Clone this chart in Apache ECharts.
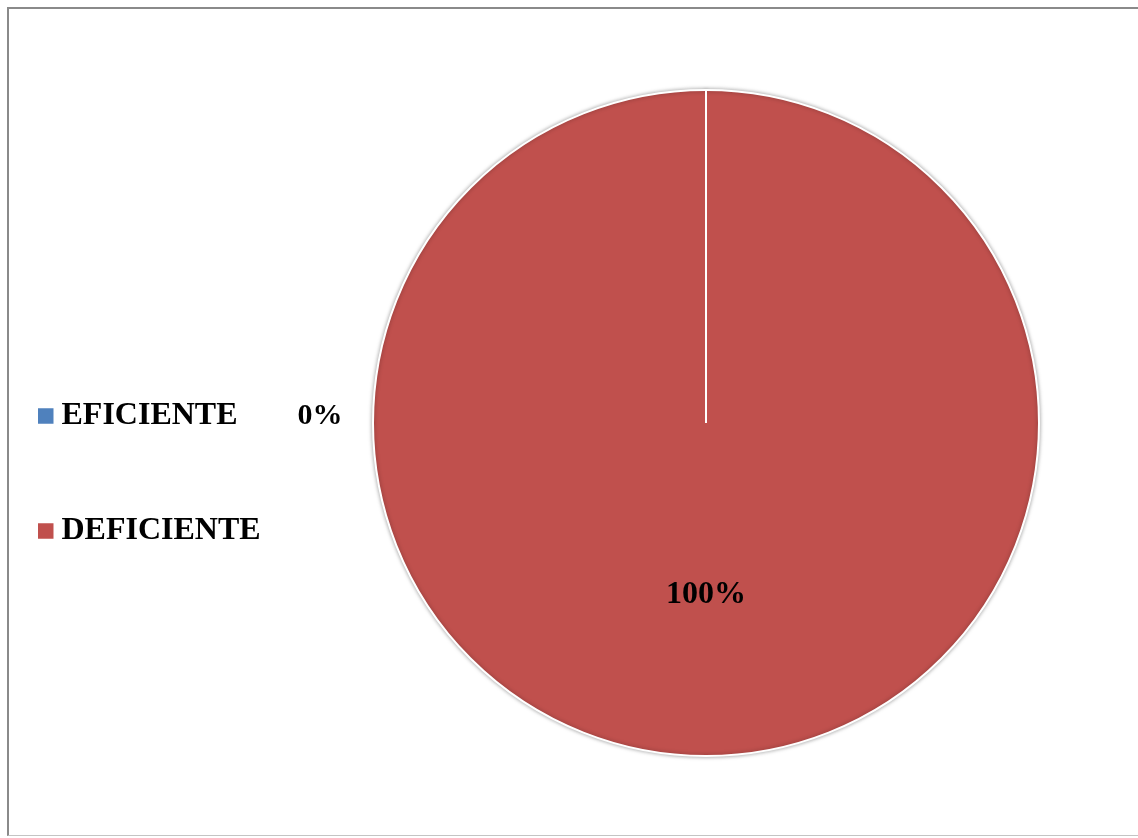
<!DOCTYPE html>
<html>
<head>
<meta charset="utf-8">
<script src="https://cdn.jsdelivr.net/npm/echarts@6/dist/echarts.min.js"></script>
<style>
  html, body { margin: 0; padding: 0; background: #fff; }
  #frame {
    position: absolute; left: 7px; top: 7px; width: 1140px; height: 829px;
    border-top: 2px solid #8a8a8a; border-left: 2px solid #8a8a8a;
    border-bottom: 1px solid #c4c4c4; box-sizing: border-box;
  }
  #chart { position: absolute; left: 0; top: 0; width: 1138px; height: 838px; }
</style>
</head>
<body>
<div id="frame"></div>
<div id="chart"></div>
<script>
// Categories and values of the pie
const categories = ['EFICIENTE', 'DEFICIENTE'];
const values = [0, 100];
const colors = ['#4F81BD', '#C0504D'];

const serif = '"Liberation Serif", "Times New Roman", serif';

const chart = echarts.init(document.getElementById('chart'), null, { renderer: 'canvas' });

const data = categories.map((name, i) => ({
  name,
  value: values[i],
  itemStyle: { color: colors[i] },
  label: i === 0
    ? { position: 'center', offset: [-386, -7], fontSize: 30 }
    : { position: 'inside', offset: [0, 2], fontSize: 32 }
}));

chart.setOption({
  animation: false,
  legend: {
    orient: 'vertical',
    left: 31,
    top: 395,
    itemWidth: 17.5,
    itemHeight: 17.5,
    itemGap: 83,
    icon: 'rect',
    data: categories,
    textStyle: {
      fontFamily: serif,
      fontWeight: 'bold',
      fontSize: 32,
      lineHeight: 32,
      color: '#000',
      padding: [0, 0, 0, 2]
    }
  },
  series: [{
    type: 'pie',
    center: [706, 423],
    radius: 333,
    startAngle: 90,
    clockwise: true,
    avoidLabelOverlap: false,
    silent: true,
    itemStyle: {
      borderColor: '#ffffff',
      borderWidth: 2,
      shadowBlur: 4,
      shadowColor: 'rgba(0,0,0,0.35)'
    },
    label: {
      show: true,
      formatter: p => Math.round(p.percent) + '%',
      fontFamily: serif,
      fontWeight: 'bold',
      color: '#000'
    },
    labelLine: { show: false },
    data
  }]
});

// White slice boundary at the start angle, taken from the pie's own layout
const layout = chart.getModel().getSeriesByIndex(0).getData().getItemLayout(1);
const ang = layout.startAngle;
chart.setOption({
  graphic: [{
    type: 'line',
    silent: true,
    z: 100,
    shape: {
      x1: layout.cx, y1: layout.cy,
      x2: layout.cx + layout.r * Math.cos(ang),
      y2: layout.cy + layout.r * Math.sin(ang)
    },
    style: { stroke: '#ffffff', lineWidth: 2 }
  }]
});
</script>
</body>
</html>
